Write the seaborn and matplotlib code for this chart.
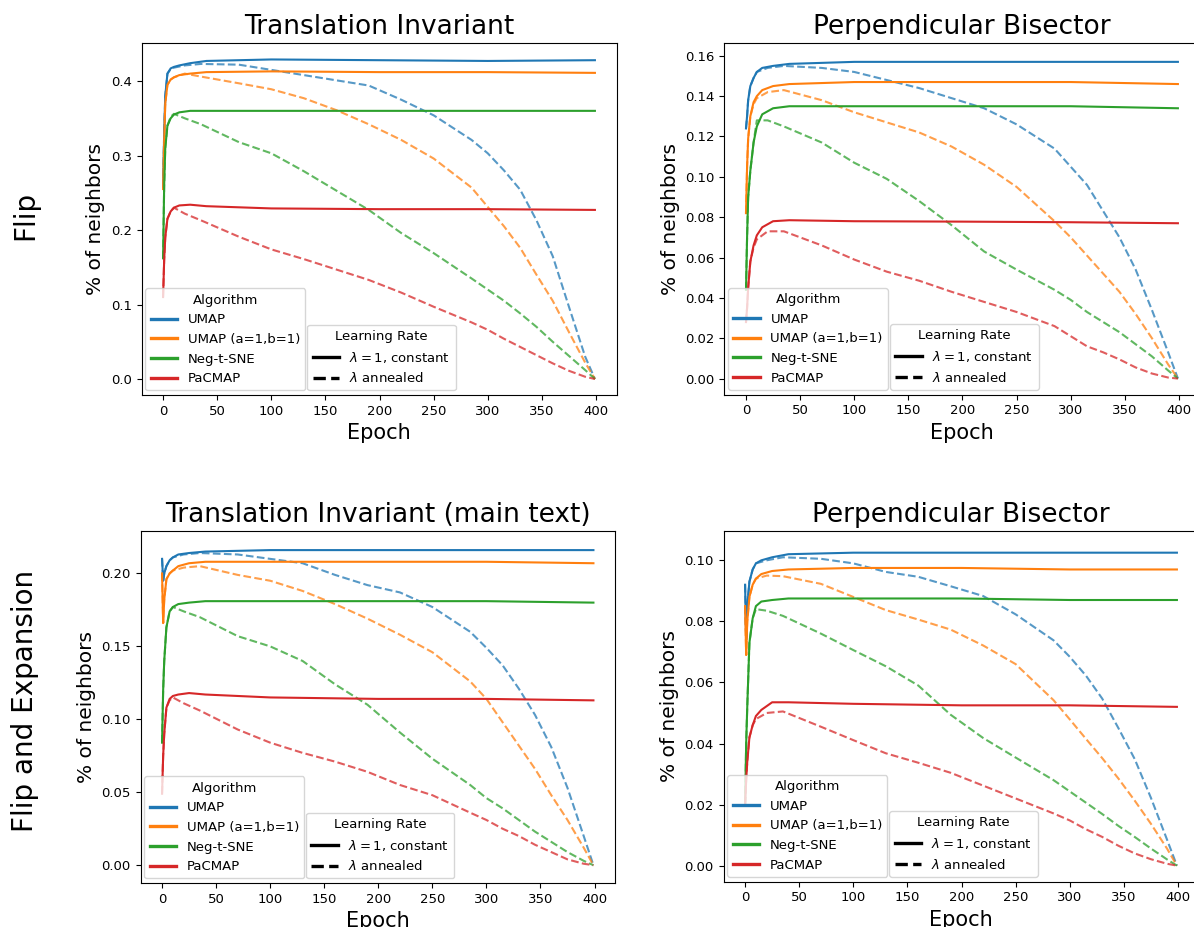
import numpy as np
import pandas as pd
import matplotlib
matplotlib.use("Agg")
import matplotlib.pyplot as plt
from matplotlib.lines import Line2D
from matplotlib import font_manager
import seaborn as sns

# ---------------- data ----------------
algorithms = ["UMAP", "UMAP (a=1,b=1)", "Neg-t-SNE", "PaCMAP"]
colors = ["#1f77b4", "#ff7f0e", "#2ca02c", "#d62728"]
panel_titles = ["Translation Invariant", "Perpendicular Bisector",
                "Translation Invariant (main text)", "Perpendicular Bisector"]
row_labels = ["Flip", "Flip and Expansion"]
xticks = [0, 50, 100, 150, 200, 250, 300, 350, 400]

solid_epochs = [0, 1, 2, 4, 7, 10, 15, 25, 40, 100, 200, 300, 399]
dashed_epochs = [0, 1, 2, 4, 7, 10, 20, 35, 70, 100, 130, 160, 190, 220, 250,
                 285, 300, 315, 330, 345, 360, 375, 390, 399]

# Panel 1: Flip / Translation Invariant
ti_flip_const = {
    "UMAP": [0.258, 0.33, 0.38, 0.41, 0.417, 0.419, 0.421, 0.424, 0.427, 0.429, 0.428, 0.427, 0.428],
    "UMAP (a=1,b=1)": [0.255, 0.32, 0.37, 0.395, 0.402, 0.405, 0.408, 0.41, 0.412, 0.413, 0.412, 0.412, 0.411],
    "Neg-t-SNE": [0.162, 0.26, 0.31, 0.34, 0.35, 0.355, 0.358, 0.36, 0.36, 0.36, 0.36, 0.36, 0.36],
    "PaCMAP": [0.11, 0.16, 0.19, 0.215, 0.225, 0.23, 0.233, 0.234, 0.232, 0.229, 0.228, 0.228, 0.227],
}
ti_flip_anneal = {
    "UMAP": [0.258, 0.33, 0.38, 0.41, 0.416, 0.418, 0.421, 0.423, 0.422, 0.415, 0.408, 0.401, 0.394,
             0.375, 0.354, 0.321, 0.303, 0.28, 0.254, 0.213, 0.165, 0.097, 0.03, 0.0],
    "UMAP (a=1,b=1)": [0.255, 0.32, 0.37, 0.395, 0.402, 0.405, 0.41, 0.406, 0.397, 0.389, 0.377, 0.361,
                       0.342, 0.321, 0.296, 0.257, 0.231, 0.205, 0.176, 0.14, 0.105, 0.063, 0.022, 0.0],
    "Neg-t-SNE": [0.162, 0.26, 0.31, 0.34, 0.352, 0.356, 0.35, 0.342, 0.318, 0.303, 0.279, 0.253, 0.227,
                  0.196, 0.169, 0.135, 0.12, 0.105, 0.088, 0.07, 0.05, 0.031, 0.012, 0.0],
    "PaCMAP": [0.11, 0.16, 0.19, 0.215, 0.225, 0.23, 0.222, 0.213, 0.191, 0.174, 0.161, 0.147, 0.133,
               0.116, 0.097, 0.076, 0.066, 0.054, 0.043, 0.032, 0.021, 0.011, 0.003, 0.0],
}

# Panel 2: Flip / Perpendicular Bisector
pb_flip_const = {
    "UMAP": [0.124, 0.13, 0.138, 0.145, 0.149, 0.152, 0.154, 0.155, 0.156, 0.157, 0.157, 0.157, 0.157],
    "UMAP (a=1,b=1)": [0.082, 0.105, 0.119, 0.13, 0.137, 0.14, 0.143, 0.145, 0.146, 0.147, 0.147, 0.147, 0.146],
    "Neg-t-SNE": [0.044, 0.07, 0.09, 0.103, 0.117, 0.125, 0.131, 0.134, 0.135, 0.135, 0.135, 0.135, 0.134],
    "PaCMAP": [0.028, 0.035, 0.045, 0.058, 0.066, 0.071, 0.075, 0.078, 0.0785, 0.078, 0.0778, 0.0775, 0.077],
}
pb_flip_anneal = {
    "UMAP": [0.124, 0.13, 0.138, 0.145, 0.149, 0.152, 0.154, 0.155, 0.154, 0.152, 0.148, 0.144, 0.139,
             0.134, 0.126, 0.114, 0.105, 0.096, 0.083, 0.07, 0.054, 0.034, 0.013, 0.0],
    "UMAP (a=1,b=1)": [0.082, 0.105, 0.119, 0.13, 0.136, 0.139, 0.142, 0.143, 0.138, 0.132, 0.127, 0.122,
                       0.115, 0.106, 0.095, 0.078, 0.07, 0.061, 0.052, 0.043, 0.032, 0.02, 0.007, 0.0],
    "Neg-t-SNE": [0.044, 0.07, 0.09, 0.103, 0.117, 0.128, 0.128, 0.125, 0.117, 0.107, 0.099, 0.088, 0.076,
                  0.063, 0.054, 0.044, 0.039, 0.033, 0.028, 0.023, 0.017, 0.011, 0.004, 0.0],
    "PaCMAP": [0.028, 0.035, 0.045, 0.058, 0.065, 0.069, 0.073, 0.073, 0.066, 0.059, 0.053, 0.0485, 0.043,
               0.038, 0.033, 0.026, 0.021, 0.016, 0.013, 0.0095, 0.0055, 0.0025, 0.0005, 0.0],
}

# Panel 3: Flip and Expansion / Translation Invariant (main text)
ti_fe_const = {
    "UMAP": [0.21, 0.195, 0.2, 0.205, 0.209, 0.211, 0.213, 0.214, 0.215, 0.216, 0.216, 0.216, 0.216],
    "UMAP (a=1,b=1)": [0.2, 0.166, 0.182, 0.196, 0.2, 0.202, 0.205, 0.207, 0.208, 0.208, 0.208, 0.208, 0.207],
    "Neg-t-SNE": [0.084, 0.12, 0.14, 0.163, 0.174, 0.177, 0.179, 0.18, 0.181, 0.181, 0.181, 0.181, 0.18],
    "PaCMAP": [0.049, 0.075, 0.09, 0.108, 0.114, 0.116, 0.117, 0.118, 0.117, 0.115, 0.114, 0.114, 0.113],
}
ti_fe_anneal = {
    "UMAP": [0.21, 0.195, 0.2, 0.205, 0.209, 0.211, 0.213, 0.214, 0.213, 0.21, 0.207, 0.199, 0.192,
             0.187, 0.177, 0.16, 0.149, 0.137, 0.121, 0.103, 0.081, 0.053, 0.02, 0.0],
    "UMAP (a=1,b=1)": [0.2, 0.166, 0.182, 0.196, 0.2, 0.202, 0.204, 0.205, 0.199, 0.195, 0.188, 0.179,
                       0.169, 0.158, 0.146, 0.126, 0.114, 0.098, 0.082, 0.066, 0.048, 0.031, 0.012, 0.0],
    "Neg-t-SNE": [0.084, 0.12, 0.14, 0.163, 0.174, 0.177, 0.174, 0.17, 0.157, 0.15, 0.14, 0.124, 0.11,
                  0.091, 0.073, 0.055, 0.046, 0.039, 0.031, 0.023, 0.016, 0.009, 0.003, 0.0],
    "PaCMAP": [0.049, 0.075, 0.09, 0.108, 0.113, 0.115, 0.111, 0.106, 0.093, 0.084, 0.077, 0.071, 0.064,
               0.055, 0.048, 0.036, 0.031, 0.025, 0.02, 0.014, 0.009, 0.004, 0.001, 0.0],
}

# Panel 4: Flip and Expansion / Perpendicular Bisector
pb_fe_const = {
    "UMAP": [0.092, 0.074, 0.085, 0.093, 0.097, 0.099, 0.1, 0.101, 0.102, 0.1025, 0.1025, 0.1025, 0.1025],
    "UMAP (a=1,b=1)": [0.085, 0.069, 0.08, 0.088, 0.092, 0.094, 0.0955, 0.0965, 0.097, 0.0975, 0.0975, 0.097, 0.097],
    "Neg-t-SNE": [0.02, 0.04, 0.052, 0.073, 0.081, 0.085, 0.0865, 0.087, 0.0875, 0.0875, 0.0875, 0.087, 0.087],
    "PaCMAP": [0.02, 0.028, 0.034, 0.042, 0.046, 0.049, 0.051, 0.0535, 0.0535, 0.053, 0.0525, 0.0525, 0.052],
}
pb_fe_anneal = {
    "UMAP": [0.092, 0.074, 0.085, 0.093, 0.097, 0.099, 0.1, 0.101, 0.1005, 0.099, 0.0962, 0.0946, 0.0915,
             0.0883, 0.0823, 0.0738, 0.0684, 0.0622, 0.0547, 0.045, 0.0349, 0.0222, 0.0084, 0.0],
    "UMAP (a=1,b=1)": [0.085, 0.069, 0.08, 0.088, 0.092, 0.094, 0.095, 0.0948, 0.0923, 0.088, 0.0837, 0.0806,
                       0.0773, 0.0721, 0.066, 0.0542, 0.0479, 0.0415, 0.0352, 0.0285, 0.0213, 0.0137, 0.0055, 0.0],
    "Neg-t-SNE": [0.02, 0.04, 0.052, 0.073, 0.081, 0.084, 0.0835, 0.0818, 0.076, 0.0706, 0.0653, 0.059, 0.0494,
                  0.0418, 0.0354, 0.028, 0.0243, 0.0206, 0.0169, 0.013, 0.0094, 0.0056, 0.002, 0.0],
    "PaCMAP": [0.02, 0.028, 0.034, 0.042, 0.046, 0.048, 0.05, 0.0505, 0.0455, 0.0411, 0.0368, 0.0337, 0.0304,
               0.0262, 0.022, 0.0171, 0.0148, 0.0119, 0.0094, 0.0065, 0.004, 0.0021, 0.0006, 0.0],
}

panels = [(ti_flip_const, ti_flip_anneal), (pb_flip_const, pb_flip_anneal),
          (ti_fe_const, ti_fe_anneal), (pb_fe_const, pb_fe_anneal)]
ylims = [(-0.0215, 0.4515), (-0.0079, 0.1665), (-0.0122, 0.2293), (-0.0052, 0.1097)]
yticks = [[0.0, 0.1, 0.2, 0.3, 0.4],
          [0.00, 0.02, 0.04, 0.06, 0.08, 0.10, 0.12, 0.14, 0.16],
          [0.00, 0.05, 0.10, 0.15, 0.20],
          [0.00, 0.02, 0.04, 0.06, 0.08, 0.10]]
yfmt = ["{:.1f}", "{:.2f}", "{:.2f}", "{:.2f}"]

# ---------------- figure ----------------
W, H = 1194, 927
fig = plt.figure(figsize=(W / 100, H / 100), dpi=100)

def px_axes(left, top, right, bottom):
    return fig.add_axes([left / W, 1 - bottom / H, (right - left) / W, (bottom - top) / H])

positions = [(141.5, 42.7, 616.5, 395), (724.4, 42.7, 1199.5, 394.5),
             (140.5, 530.7, 615, 883), (723.5, 530.7, 1198.5, 881.5)]

palette = dict(zip(algorithms, colors))

def to_frame(series, epochs):
    rows = []
    for alg in algorithms:
        for e, v in zip(epochs, series[alg]):
            rows.append({"Epoch": e, "value": v, "Algorithm": alg})
    return pd.DataFrame(rows)

for i, ((const, anneal), pos) in enumerate(zip(panels, positions)):
    ax = px_axes(*pos)
    df_a = to_frame(anneal, dashed_epochs)
    df_c = to_frame(const, solid_epochs)
    sns.lineplot(data=df_a, x="Epoch", y="value", hue="Algorithm", palette=palette,
                 hue_order=algorithms, estimator=None, errorbar=None, legend=False,
                 linestyle="--", linewidth=1.5, alpha=0.75, ax=ax)
    sns.lineplot(data=df_c, x="Epoch", y="value", hue="Algorithm", palette=palette,
                 hue_order=algorithms, estimator=None, errorbar=None, legend=False,
                 linewidth=1.5, ax=ax)
    ax.set_xlim(-19.95, 418.95)
    ax.set_ylim(*ylims[i])
    ax.set_xticks(xticks)
    ax.set_xticklabels([str(t) for t in xticks], fontsize=9.5)
    ax.set_yticks(yticks[i])
    ax.set_yticklabels([yfmt[i].format(t) for t in yticks[i]], fontsize=9.5)
    ax.set_xlabel("Epoch", fontsize=15)
    ax.set_ylabel("% of neighbors", fontsize=14.5)
    ax.set_title(panel_titles[i], fontsize=19)

    alg_handles = [Line2D([0], [0], color=c, lw=2.4) for c in colors]
    leg1 = ax.legend(alg_handles, algorithms, title="Algorithm", fontsize=9.5,
                     title_fontsize=9.5, loc="lower left",
                     bbox_to_anchor=(0.008, 0.013), borderaxespad=0)
    ax.add_artist(leg1)
    lr_handles = [Line2D([0], [0], color="black", lw=2.4),
                  Line2D([0], [0], color="black", lw=2.4, linestyle="--")]
    ax.legend(lr_handles, [r"$\lambda = 1$, constant", r"$\lambda$ annealed"],
              title="Learning Rate", fontsize=9.5, title_fontsize=9.5,
              loc="lower left", bbox_to_anchor=(0.349, 0.013), borderaxespad=0)

names = {f.name for f in font_manager.fontManager.ttflist}
if "Liberation Sans Narrow" in names:
    row_font, row_size = "Liberation Sans Narrow", 24
else:
    row_font, row_size = "DejaVu Sans", 20
fig.text(25 / W, 1 - 215 / H, row_labels[0], rotation=90, ha="center", va="center",
         fontsize=row_size, family=row_font)
fig.text(25 / W, 1 - 701 / H, row_labels[1], rotation=90, ha="center", va="center",
         fontsize=row_size, family=row_font)

fig.savefig("out.png", dpi=100)
